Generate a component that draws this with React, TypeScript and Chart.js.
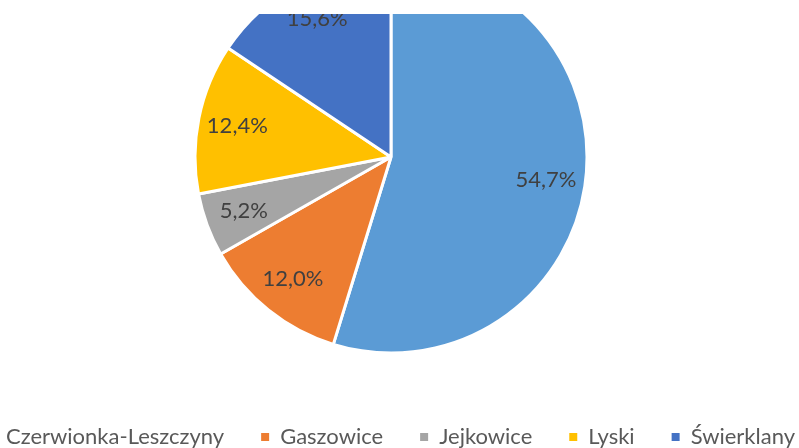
import React, { useEffect, useRef } from "react";
import { Chart, registerables } from "chart.js";

Chart.register(...registerables);

const categories = ["Czerwionka-Leszczyny", "Gaszowice", "Jejkowice", "Lyski", "Świerklany"];
const shares = [54.7, 12.0, 5.2, 12.4, 15.6];
const colors = ["#5B9BD5", "#ED7D31", "#A5A5A5", "#FFC000", "#4472C4"];

const formatShare = (v: number) => v.toFixed(1).replace(".", ",") + "%";

const sliceLabelPlugin = {
  id: "sliceLabels",
  afterDatasetsDraw(chart: any) {
    const meta = chart.getDatasetMeta(0);
    const ctx = chart.ctx;
    ctx.save();
    ctx.font = "22px Lato";
    ctx.fillStyle = "#404040";
    ctx.textAlign = "center";
    ctx.textBaseline = "middle";
    meta.data.forEach((arc: any, i: number) => {
      const p = arc.getProps(["x", "y", "startAngle", "endAngle", "outerRadius"], true);
      const mid = (p.startAngle + p.endAngle) / 2;
      const r = p.outerRadius * 0.8;
      ctx.fillText(formatShare(shares[i]), p.x + Math.cos(mid) * r, p.y + Math.sin(mid) * r);
    });
    ctx.restore();
  },
};

export default function App() {
  const canvasRef = useRef<HTMLCanvasElement | null>(null);

  useEffect(() => {
    if (!canvasRef.current) return;
    const chart = new Chart(canvasRef.current, {
      type: "pie",
      data: {
        labels: categories,
        datasets: [
          {
            data: shares,
            backgroundColor: colors,
            borderColor: "#ffffff",
            borderWidth: 3,
            radius: 196,
          },
        ],
      },
      options: {
        responsive: false,
        animation: false,
        devicePixelRatio: 1,
        layout: { padding: 0 },
        plugins: {
          tooltip: { enabled: false },
          legend: {
            display: true,
            position: "bottom",
            labels: {
              boxWidth: 8,
              boxHeight: 8,
              padding: 37,
              color: "#595959",
              font: { family: "Lato", size: 22 },
              generateLabels: (c: any) =>
                (Chart as any).overrides.pie.plugins.legend.labels
                  .generateLabels(c)
                  .map((l: any) => ({ ...l, lineWidth: 0, strokeStyle: "rgba(0,0,0,0)" })),
            },
          },
        },
      },
      plugins: [sliceLabelPlugin],
    } as any);
    return () => chart.destroy();
  }, []);

  return (
    <div
      style={{
        position: "fixed",
        top: 14,
        left: 0,
        width: 799,
        height: 434,
        overflow: "hidden",
        background: "#ffffff",
      }}
    >
      <canvas
        ref={canvasRef}
        width={1000}
        height={533}
        style={{ position: "absolute", left: -109, top: -89, width: 1000, height: 533 }}
      />
    </div>
  );
}
